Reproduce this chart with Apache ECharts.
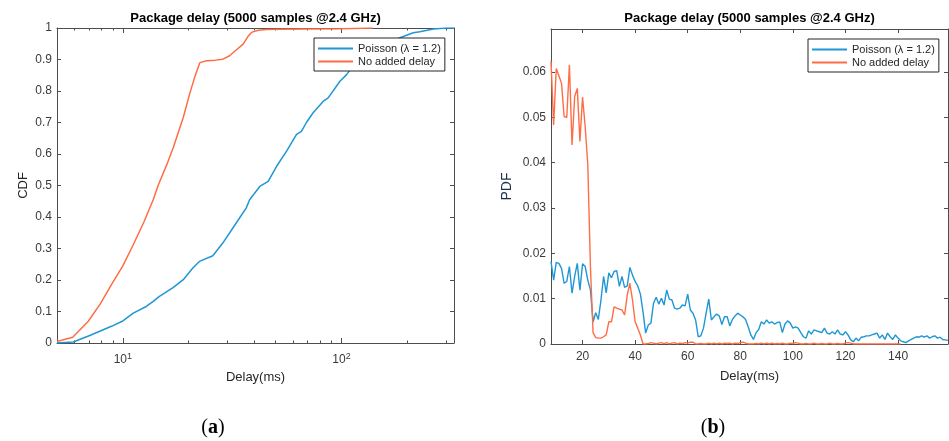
<!DOCTYPE html>
<html>
<head>
<meta charset="utf-8">
<script src="https://cdn.jsdelivr.net/npm/echarts@6/dist/echarts.min.js"></script>
<style>
html, body { margin: 0; padding: 0; background: #fff; }
#chart { width: 949px; height: 441px; }
</style>
</head>
<body>
<div id="chart"></div>
<script>
// (a) CDF curves, delay in ms (log axis)
var cdfPoissonDelay = [5, 5.93, 7.06, 8.87, 10, 11.16, 12.8, 13.77, 14.7, 16.9, 18.9, 20.9, 22.4, 25.8, 28.7, 33, 36.7, 38, 42.3, 46.2, 50.5, 56.1, 62.3, 65.6, 69.1, 74.2, 82.4, 86.9, 98.4, 105.5, 113, 130, 150, 170, 185, 213, 228, 263, 302, 327];
var cdfPoissonValue = [0, 0.003, 0.024, 0.053, 0.07, 0.095, 0.116, 0.132, 0.148, 0.175, 0.201, 0.238, 0.259, 0.277, 0.318, 0.381, 0.429, 0.455, 0.497, 0.513, 0.561, 0.609, 0.662, 0.672, 0.7, 0.731, 0.767, 0.778, 0.831, 0.852, 0.879, 0.91, 0.94, 0.958, 0.969, 0.985, 0.988, 0.997, 1, 1];
var cdfNoDelayDelay = [5, 5.9, 6.95, 7.9, 8.87, 10, 11.16, 12.5, 13.77, 14.5, 15.9, 17, 18.9, 20.2, 21.4, 22.5, 24.2, 26.5, 28.7, 30.8, 33, 35.5, 37.5, 38.8, 41.6, 45.4, 52, 70, 100, 139];
var cdfNoDelayValue = [0.005, 0.018, 0.069, 0.125, 0.185, 0.245, 0.312, 0.385, 0.455, 0.5, 0.567, 0.62, 0.716, 0.79, 0.848, 0.89, 0.896, 0.898, 0.901, 0.912, 0.93, 0.949, 0.975, 0.986, 0.993, 0.995, 0.996, 0.997, 0.998, 1];

// (b) PDF, one value per ms
var pdfDelay = [8, 9, 10, 11, 12, 13, 14, 15, 16, 17, 18, 19, 20, 21, 22, 23, 24, 25, 26, 27, 28, 29, 30, 31, 32, 33, 34, 35, 36, 37, 38, 39, 40, 41, 42, 43, 44, 45, 46, 47, 48, 49, 50, 51, 52, 53, 54, 55, 56, 57, 58, 59, 60, 61, 62, 63, 64, 65, 66, 67, 68, 69, 70, 71, 72, 73, 74, 75, 76, 77, 78, 79, 80, 81, 82, 83, 84, 85, 86, 87, 88, 89, 90, 91, 92, 93, 94, 95, 96, 97, 98, 99, 100, 101, 102, 103, 104, 105, 106, 107, 108, 109, 110, 111, 112, 113, 114, 115, 116, 117, 118, 119, 120, 121, 122, 123, 124, 125, 126, 127, 128, 129, 130, 131, 132, 133, 134, 135, 136, 137, 138, 139, 140, 141, 142, 143, 144, 145, 146, 147, 148, 149, 150, 151, 152, 153, 154, 155, 156, 157, 158, 159];
var pdfPoisson = [
  0.0182, 0.0141, 0.0180, 0.0178, 0.0167, 0.0134, 0.0138, 0.0171, 0.0112, 0.0149,
  0.0178, 0.0119, 0.0177, 0.0171, 0.0141, 0.0119, 0.0049, 0.0069, 0.0054, 0.0097,
  0.0149, 0.0113, 0.0157, 0.0146, 0.0160, 0.0162, 0.0127, 0.0149, 0.0125, 0.0128,
  0.0169, 0.0152, 0.0138, 0.0128, 0.0110, 0.0071, 0.0024, 0.0042, 0.0046, 0.0090,
  0.0103, 0.0088, 0.0101, 0.0086, 0.0119, 0.0099, 0.0097, 0.0079, 0.0077, 0.0079,
  0.0086, 0.0084, 0.0110, 0.0075, 0.0068, 0.0053, 0.0016, 0.0018, 0.0035, 0.0068,
  0.0099, 0.0053, 0.0060, 0.0066, 0.0062, 0.0043, 0.0060, 0.0060, 0.0040, 0.0054,
  0.0062, 0.0068, 0.0064, 0.0060, 0.0054, 0.0038, 0.0020, 0.0010, 0.0025, 0.0032,
  0.0049, 0.0044, 0.0053, 0.0046, 0.0049, 0.0044, 0.0047, 0.0049, 0.0025, 0.0044,
  0.0051, 0.0046, 0.0035, 0.0038, 0.0035, 0.0025, 0.0016, 0.0013, 0.0029, 0.0022,
  0.0031, 0.0029, 0.0027, 0.0025, 0.0035, 0.0024, 0.0022, 0.0027, 0.0022, 0.0031,
  0.0022, 0.0020, 0.0027, 0.0020, 0.0009, 0.0005, 0.0013, 0.0007, 0.0015, 0.0016,
  0.0018, 0.0018, 0.0020, 0.0022, 0.0024, 0.0013, 0.0020, 0.0010, 0.0024, 0.0016,
  0.0010, 0.0020, 0.0013, 0.0007, 0.0005, 0.0003, 0.0007, 0.0010, 0.0013, 0.0016,
  0.0015, 0.0018, 0.0015, 0.0018, 0.0013, 0.0016, 0.0018, 0.0013, 0.0015, 0.0010,
  0.0009, 0.0008
];
var pdfNoDelay = [
  0.0625, 0.0483, 0.0608, 0.0592, 0.0575, 0.0502, 0.0500, 0.0616, 0.0439, 0.0546,
  0.0564, 0.0447, 0.0545, 0.0480, 0.0395, 0.0170, 0.0025, 0.0014, 0.0013, 0.0013,
  0.0016, 0.0020, 0.0049, 0.0049, 0.0082, 0.0079, 0.0077, 0.0075, 0.0064, 0.0108,
  0.0134, 0.0097, 0.0049, 0.0035, 0.0020, 0, 0, 0.0001, 0.0003, 0.0002,
  0, 0.0002, 0.0003, 0.0001, 0.0003, 0, 0.0002, 0.0003, 0, 0.0002,
  0.0001, 0.0003, 0.0002, 0.0004, 0.0004, 0, 0, 0.0001, 0, 0,
  0.0002, 0, 0.0002, 0, 0.0002, 0, 0.0002, 0.0001, 0.0002, 0,
  0.0002, 0.0001, 0.0003, 0.0004, 0.0002, 0, 0, 0, 0.0001, 0,
  0.0002, 0, 0.0002, 0, 0.0002, 0, 0.0001, 0, 0.0002, 0,
  0, 0.0002, 0.0001, 0.0003, 0.0002, 0, 0, 0.0001, 0, 0,
  0.0002, 0, 0, 0.0001, 0, 0, 0.0002, 0, 0, 0.0001,
  0, 0, 0.0002, 0.0003, 0.0002, 0, 0, 0, 0, 0,
  0, 0, 0, 0, 0, 0, 0, 0, 0, 0,
  0, 0, 0, 0
];

var logMajor = [10, 100];
var logMinor = [6, 7, 8, 9, 20, 30, 40, 50, 60, 70, 80, 90, 200, 300];
var cdfTicks = [0, 0.1, 0.2, 0.3, 0.4, 0.5, 0.6, 0.7, 0.8, 0.9, 1];
var pdfXTicks = [20, 40, 60, 80, 100, 120, 140];
var pdfYTicks = [0, 0.01, 0.02, 0.03, 0.04, 0.05, 0.06];

var names = ['Poisson (\u03bb = 1.2)', 'No added delay'];
var BLUE = '#1f97d4';
var ORANGE = '#ff6d45';
var FONT = '"Liberation Sans", Arial, sans-serif';
var AX = '#4d4d4d';
var LBL = '#3a3a3a';

function zip(xs, ys) {
  return ys.map(function (v, i) { return [xs[i], v]; });
}

function tickAxis(o) {
  // bare axis used for the box edges and minor ticks
  var a = {
    gridIndex: o.grid,
    position: o.pos,
    type: o.type || 'value',
    min: o.min, max: o.max,
    axisLine: { show: o.line !== false, onZero: false, lineStyle: { color: AX, width: 1 } },
    axisTick: { show: true, inside: true, length: o.len || 4, customValues: o.ticks, lineStyle: { color: AX } },
    axisLabel: { show: false },
    splitLine: { show: false },
    minorTick: { show: false }
  };
  if (o.type === 'log') a.logBase = 10;
  return a;
}

var chart = echarts.init(document.getElementById('chart'), null, { renderer: 'canvas' });

var lineBase = { type: 'line', showSymbol: false, symbol: 'none', animation: false };

function legendAt(left, top) {
  return {
    data: names, orient: 'vertical', left: left, top: top,
    icon: 'rect', itemWidth: 35, itemHeight: 1.8, itemGap: 0,
    padding: [4, 4, 3, 4],
    borderColor: '#262626', borderWidth: 1, backgroundColor: '#fff',
    textStyle: { fontFamily: FONT, fontSize: 11, color: '#262626', lineHeight: 13 },
    selectedMode: false
  };
}

var option = {
  backgroundColor: '#fff',
  animation: false,
  grid: [
    { left: 57, top: 28, width: 397, height: 315 },
    { left: 551, top: 29, width: 397, height: 315 }
  ],
  legend: [legendAt(314, 38), legendAt(808, 39)],
  xAxis: [
    {
      gridIndex: 0, type: 'log', logBase: 10, position: 'bottom', min: 5, max: 327,
      axisLine: { show: true, onZero: false, lineStyle: { color: AX } },
      axisTick: { show: true, inside: true, length: 5, customValues: logMajor, lineStyle: { color: AX } },
      axisLabel: {
        customValues: logMajor, margin: 9,
        formatter: function (v) { return '{b|10}{s|' + Math.round(Math.log10(v)) + '}'; },
        rich: {
          b: { fontFamily: FONT, fontSize: 12, color: LBL, lineHeight: 14, verticalAlign: 'bottom' },
          s: { fontFamily: FONT, fontSize: 9, color: LBL, lineHeight: 9, verticalAlign: 'top' }
        }
      },
      splitLine: { show: false }, minorTick: { show: false },
      name: 'Delay(ms)', nameLocation: 'middle', nameGap: 27,
      nameTextStyle: { fontFamily: FONT, fontSize: 13, color: '#262626' }
    },
    tickAxis({ grid: 0, pos: 'bottom', type: 'log', min: 5, max: 327, ticks: logMinor, len: 2.5, line: false }),
    tickAxis({ grid: 0, pos: 'top', type: 'log', min: 5, max: 327, ticks: logMajor, len: 5 }),
    tickAxis({ grid: 0, pos: 'top', type: 'log', min: 5, max: 327, ticks: logMinor, len: 2.5, line: false }),
    {
      gridIndex: 1, type: 'value', position: 'bottom', min: 8, max: 159,
      axisLine: { show: true, onZero: false, lineStyle: { color: AX } },
      axisTick: { show: true, inside: true, length: 4, customValues: pdfXTicks, lineStyle: { color: AX } },
      axisLabel: { customValues: pdfXTicks, margin: 7, fontFamily: FONT, fontSize: 12, color: LBL },
      splitLine: { show: false },
      name: 'Delay(ms)', nameLocation: 'middle', nameGap: 26,
      nameTextStyle: { fontFamily: FONT, fontSize: 13, color: '#262626' }
    },
    tickAxis({ grid: 1, pos: 'top', min: 8, max: 159, ticks: pdfXTicks, len: 4 })
  ],
  yAxis: [
    {
      gridIndex: 0, type: 'value', position: 'left', min: 0, max: 1,
      axisLine: { show: true, onZero: false, lineStyle: { color: AX } },
      axisTick: { show: true, inside: true, length: 4, customValues: cdfTicks, lineStyle: { color: AX } },
      axisLabel: { customValues: cdfTicks, margin: 5, fontFamily: FONT, fontSize: 12, color: LBL,
        formatter: function (v) { return String(Math.round(v * 10) / 10); } },
      splitLine: { show: false },
      name: 'CDF', nameLocation: 'middle', nameGap: 27,
      nameTextStyle: { fontFamily: FONT, fontSize: 13, color: '#262626' }
    },
    tickAxis({ grid: 0, pos: 'right', min: 0, max: 1, ticks: cdfTicks, len: 4 }),
    {
      gridIndex: 1, type: 'value', position: 'left', min: 0, max: 0.0695,
      axisLine: { show: true, onZero: false, lineStyle: { color: AX } },
      axisTick: { show: true, inside: true, length: 4, customValues: pdfYTicks, lineStyle: { color: AX } },
      axisLabel: { customValues: pdfYTicks, margin: 5, fontFamily: FONT, fontSize: 12, color: LBL,
        formatter: function (v) { return v === 0 ? '0' : v.toFixed(2); } },
      splitLine: { show: false },
      name: 'PDF', nameLocation: 'middle', nameGap: 37,
      nameTextStyle: { fontFamily: FONT, fontSize: 14, color: '#1b2f4a' }
    },
    tickAxis({ grid: 1, pos: 'right', min: 0, max: 0.0695, ticks: pdfYTicks, len: 4 })
  ],
  graphic: [
    { type: 'text', x: 255.5, y: 18, style: { text: 'Package delay (5000 samples @2.4 GHz)', font: 'bold 13px ' + FONT, fill: '#000', align: 'center', verticalAlign: 'middle' } },
    { type: 'text', x: 749.5, y: 18, style: { text: 'Package delay (5000 samples @2.4 GHz)', font: 'bold 13px ' + FONT, fill: '#000', align: 'center', verticalAlign: 'middle' } },
    { type: 'text', x: 213, y: 428, style: { text: '{p|(}{l|a}{p|)}', align: 'center', verticalAlign: 'middle',
        rich: { p: { font: '20px "Liberation Serif", serif', fill: '#000' }, l: { font: 'bold 20px "Liberation Serif", serif', fill: '#000' } } } },
    { type: 'text', x: 713, y: 428, style: { text: '{p|(}{l|b}{p|)}', align: 'center', verticalAlign: 'middle',
        rich: { p: { font: '20px "Liberation Serif", serif', fill: '#000' }, l: { font: 'bold 20px "Liberation Serif", serif', fill: '#000' } } } }
  ],
  series: [
    Object.assign({}, lineBase, { name: names[0], xAxisIndex: 0, yAxisIndex: 0,
      data: zip(cdfPoissonDelay, cdfPoissonValue), itemStyle: { color: BLUE }, lineStyle: { width: 1.5, color: BLUE } }),
    Object.assign({}, lineBase, { name: names[1], xAxisIndex: 0, yAxisIndex: 0,
      data: zip(cdfNoDelayDelay, cdfNoDelayValue), itemStyle: { color: ORANGE }, lineStyle: { width: 1.5, color: ORANGE } }),
    Object.assign({}, lineBase, { name: names[0], xAxisIndex: 4, yAxisIndex: 2,
      data: zip(pdfDelay, pdfPoisson), itemStyle: { color: BLUE }, lineStyle: { width: 1.4, color: BLUE } }),
    Object.assign({}, lineBase, { name: names[1], xAxisIndex: 4, yAxisIndex: 2,
      data: zip(pdfDelay, pdfNoDelay), itemStyle: { color: ORANGE }, lineStyle: { width: 1.4, color: ORANGE } })
  ]
};

chart.setOption(option);
</script>
</body>
</html>
